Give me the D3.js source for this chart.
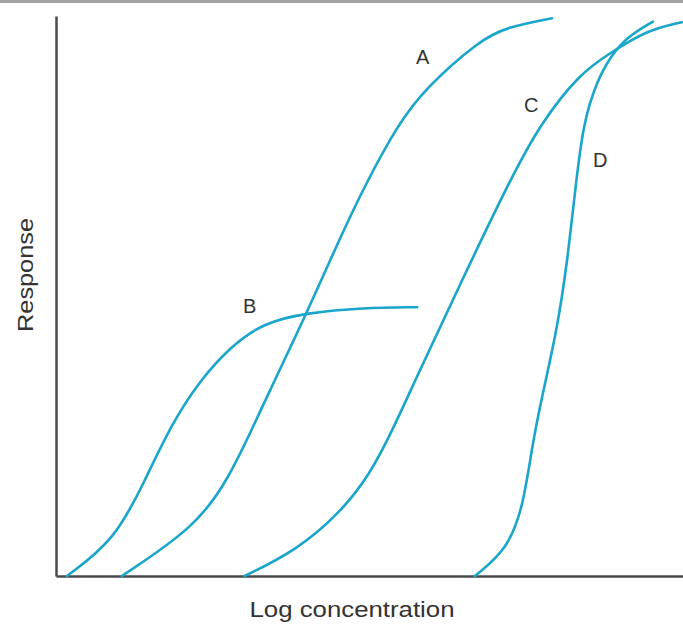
<!DOCTYPE html>
<html>
<head>
<meta charset="utf-8">
<script src="https://cdn.jsdelivr.net/npm/d3@7"></script>
<style>
  html, body { margin: 0; padding: 0; background: #fff; }
  svg { display: block; }
</style>
</head>
<body>
<script>
// ---- data (log concentration, % response) ----
const curveA_x = [1.05, 2.22, 2.74, 3.17, 3.49, 4.00, 4.53, 4.93, 5.44, 5.89, 6.76, 7.19, 7.91];
const curveA_y = [0, 8.75, 17.1, 27.3, 35.0, 47.0, 60.4, 69.8, 80.4, 87.1, 95.7, 98.0, 99.6];

const curveB_x = [0.175, 0.94, 1.42, 1.85, 2.30, 2.78, 3.30, 4.00, 4.90, 5.76];
const curveB_y = [0, 6.4, 17.1, 27.3, 35.0, 40.9, 45.2, 47.0, 47.9, 48.0];

const curveC_x = [3.01, 3.84, 4.53, 5.01, 5.37, 5.73, 6.44, 7.24, 7.72, 8.36, 8.84, 9.43, 9.98];
const curveC_y = [0, 4.6, 11.25, 18.2, 26.1, 35.0, 52.0, 70.7, 80.7, 89.8, 93.4, 97.5, 98.9];

const curveD_x = [6.68, 7.19, 7.45, 7.59, 7.75, 7.99, 8.15, 8.28, 8.41, 8.63, 8.84, 9.11, 9.52];
const curveD_y = [0, 4.6, 12.3, 23.0, 32.0, 43.9, 55.7, 68.9, 81.1, 88.4, 92.7, 96.3, 99.0];

const curveNames = ["A", "B", "C", "D"];
const labelX = [5.85, 3.09, 7.58, 8.68];
const labelY = [92.7, 48.2, 84.1, 74.3];

const xAxisTitle = "Log concentration";
const yAxisTitle = "Response";

// ---- layout ----
const W = 683, H = 624;
const mLeft = 56, mRight = 683, mTop = 16, mBottom = 576;

const svg = d3.select("body").append("svg")
  .attr("width", W).attr("height", H);

svg.append("rect").attr("x", 0).attr("y", 0).attr("width", W).attr("height", 3)
  .attr("fill", "#a3a3a3");

const x = d3.scaleLinear().domain([0, 10]).range([mLeft, mRight]);
const y = d3.scaleLinear().domain([0, 100]).range([mBottom, mTop]);

const series = [
  d3.zip(curveA_x, curveA_y),
  d3.zip(curveB_x, curveB_y),
  d3.zip(curveC_x, curveC_y),
  d3.zip(curveD_x, curveD_y)
];

// axes
const xAxis = svg.append("g").attr("transform", `translate(0,${mBottom})`)
  .call(d3.axisBottom(x).tickValues([]).tickSizeOuter(0));
const yAxis = svg.append("g").attr("transform", `translate(${mLeft},0)`)
  .call(d3.axisLeft(y).tickValues([]).tickSizeOuter(0));
[xAxis, yAxis].forEach(g => g.select(".domain")
  .attr("stroke", "#4a4a4a").attr("stroke-width", 2.5));

// curves
const line = d3.line()
  .x(d => x(d[0])).y(d => y(d[1]))
  .curve(d3.curveBasis);

svg.append("g").selectAll("path").data(series).join("path")
  .attr("d", line)
  .attr("fill", "none")
  .attr("stroke", "#1aa5cb")
  .attr("stroke-width", 2.6)
  .attr("stroke-linecap", "round");

// curve labels
svg.append("g").selectAll("text").data(curveNames).join("text")
  .attr("x", (d, i) => x(labelX[i]))
  .attr("y", (d, i) => y(labelY[i]))
  .attr("text-anchor", "middle")
  .attr("dominant-baseline", "central")
  .attr("font-family", "Liberation Sans, Arial, sans-serif")
  .attr("font-size", 20)
  .attr("fill", "#333")
  .text(d => d);

// axis titles
svg.append("text")
  .attr("x", 352)
  .attr("y", 617)
  .attr("text-anchor", "middle")
  .attr("font-family", "Liberation Sans, Arial, sans-serif")
  .attr("font-size", 22)
  .attr("textLength", 205)
  .attr("lengthAdjust", "spacingAndGlyphs")
  .attr("fill", "#333")
  .text(xAxisTitle);

svg.append("text")
  .attr("transform", `translate(33,275) rotate(-90)`)
  .attr("text-anchor", "middle")
  .attr("font-family", "Liberation Sans, Arial, sans-serif")
  .attr("font-size", 22)
  .attr("textLength", 114)
  .attr("lengthAdjust", "spacingAndGlyphs")
  .attr("fill", "#333")
  .text(yAxisTitle);
</script>
</body>
</html>
